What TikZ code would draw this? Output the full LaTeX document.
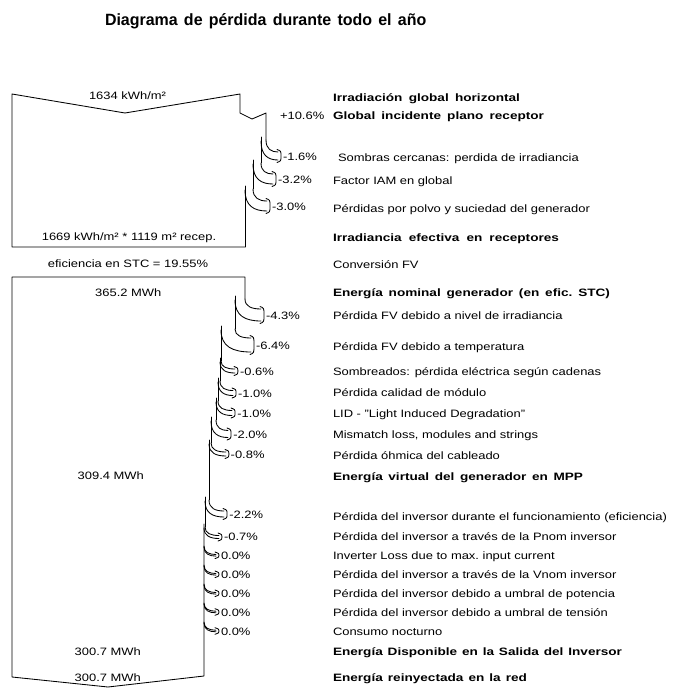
\documentclass[tikz,border=0pt]{standalone}
\usepackage{fontspec}
\setmainfont{Liberation Sans}[FakeStretch=1.21]
\newfontfamily\lblbold{Liberation Sans}[FakeStretch=1.27]
\newfontfamily\ttlfont{Liberation Sans}[FakeStretch=0.98,WordSpace=1.4]
\newcommand\spreadto[2]{\makebox[#1pt][s]{#2}}
\begin{document}
\begin{tikzpicture}[x=1pt,y=-1pt,
  every node/.style={inner sep=0pt,outer sep=0pt},
  lbl/.style={anchor=base west,font=\fontsize{10.7}{12}\selectfont},
  blbl/.style={anchor=base west,font=\lblbold\bfseries\fontsize{10.7}{12}\selectfont},
  pct/.style={anchor=base west,font=\fontsize{10.7}{12}\selectfont},
  val/.style={anchor=base,font=\fontsize{10.7}{12}\selectfont},
  flow/.style={draw=black,line width=0.85pt,line join=round,line cap=round}]
\useasboundingbox (0,0) rectangle (678,688);

% title
\node[anchor=base west,font=\ttlfont\bfseries\fontsize{16.3}{18}\selectfont] (title) at (105,25) {Diagrama de pérdida durante todo el año};

% upper block (irradiation)
\draw[flow] (245,247) -- (12,247) -- (12,94) -- (125,113) -- (240,94) -- (240,113) -- (252,119) -- (266,113) -- (266,140);
\draw[flow] (261,137) -- (261,163);
\draw[flow] (253,160) -- (253,189);
\draw[flow] (245,186) -- (245,247);

% lower block (energy)
\draw[flow] (245,299) -- (245,277) -- (12,277) -- (12,677) -- (108,687) -- (204,676) -- (204,524);
\draw[flow] (235,296) -- (235,329);
\draw[flow] (221,326) -- (221,361);
\draw[flow] (220,358) -- (220,381);
\draw[flow] (218,378) -- (218,401);
\draw[flow] (216,398) -- (216,420);
\draw[flow] (211,417) -- (211,443);
\draw[flow] (209,440) -- (209,500);
\draw[flow] (205,497) -- (205,527);

% loss bands: outer x / inner x / start y / tip x / tip y / half height
\foreach \xo/\xi/\yo/\tx/\ty/\hh in {
  266/261/140/281/156/4,
  261/253/163/276/179/5,
  253/245/189/270/206/5,
  245/235/299/264/315/6,
  235/221/329/254/345/7,
  221/220/361/238/371/2,
  220/218/381/236/393/2.5,
  218/216/401/235/413/2.5,
  216/211/420/231/434/3.5,
  211/209/443/229/454/2,
  209/205/500/227/514/3,
  205/204/527/222/537/1.5,
  204/204/546/219/555.3/0.8,
  204/204/565/219/574.3/0.8,
  204/204/584/219/593.3/0.8,
  204/204/603/219/612/0.8,
  204/204/622/219/631/0.8}{
  \draw[flow] (\xo,\yo) .. controls (\xo,{\yo+0.75*(\ty-\hh-\yo)}) and ({\xo+0.35*(\tx-\xo)},{\ty-\hh}) .. ({\tx-3},{\ty-\hh});
  \draw[flow] (\xi,{\yo+1}) .. controls (\xi,{\yo+1+0.75*(\ty+\hh-\yo-1)}) and ({\xi+0.35*(\tx-\xi)},{\ty+\hh}) .. ({\tx-3},{\ty+\hh});
  \draw[flow] ({\tx-4},{\ty-\hh-2.5}) .. controls ({\tx},{\ty-\hh-1}) .. (\tx,\ty) .. controls ({\tx},{\ty+\hh+1}) .. ({\tx-4},{\ty+\hh+2.5});
}

% values inside the blocks
\node[val] (v1) at (127.5,99) {1634 kWh/m²};
\node[val] (v2) at (129,240.5) {1669 kWh/m² * 1119 m² recep.};
\node[val] (v3) at (128,267.3) {eficiencia en STC = 19.55\%};
\node[val] (v4) at (128.3,296) {365.2 MWh};
\node[val] (v5) at (110.8,479.3) {309.4 MWh};
\node[val] (v6) at (107.8,655) {300.7 MWh};
\node[val] (v7) at (107.8,681.7) {300.7 MWh};

% percentages
\node[pct] (p0) at (280,119) {+10.6\%};
\node[pct] (p1) at (283,160) {-1.6\%};
\node[pct] (p2) at (278,183) {-3.2\%};
\node[pct] (p3) at (272,210) {-3.0\%};
\node[pct] (p4) at (266,319.3) {-4.3\%};
\node[pct] (p5) at (256,349.3) {-6.4\%};
\node[pct] (p6) at (240,375) {-0.6\%};
\node[pct] (p7) at (238,397.3) {-1.0\%};
\node[pct] (p8) at (237.3,417.3) {-1.0\%};
\node[pct] (p9) at (233.3,438.3) {-2.0\%};
\node[pct] (p10) at (230.7,458.3) {-0.8\%};
\node[pct] (p11) at (229.3,518.3) {-2.2\%};
\node[pct] (p12) at (224,540.7) {-0.7\%};
\node[pct] (p13) at (221,559.3) {0.0\%};
\node[pct] (p14) at (221,578.3) {0.0\%};
\node[pct] (p15) at (221,597.3) {0.0\%};
\node[pct] (p16) at (221,616) {0.0\%};
\node[pct] (p17) at (221,635) {0.0\%};

% descriptions
\node[blbl] (d0) at (333,101.5) {\spreadto{187}{Irradiación global horizontal}};
\node[blbl] (d1) at (333,119) {\spreadto{211}{Global incidente plano receptor}};
\node[lbl] (d2) at (338,161) {Sombras cercanas: perdida de irradiancia};
\node[lbl] (d3) at (333,184.5) {Factor IAM en global};
\node[lbl] (d4) at (333,212.5) {Pérdidas por polvo y suciedad del generador};
\node[blbl] (d5) at (333,241) {\spreadto{226}{Irradiancia efectiva en receptores}};
\node[lbl] (d6) at (333,268.5) {Conversión FV};
\node[blbl] (d7) at (333,296.5) {\spreadto{277}{Energía nominal generador (en efic.\ STC)}};
\node[lbl] (d8) at (333,319.5) {Pérdida FV debido a nivel de irradiancia};
\node[lbl] (d9) at (333,350.5) {Pérdida FV debido a temperatura};
\node[lbl] (d10) at (333,375) {Sombreados: pérdida eléctrica según cadenas};
\node[lbl] (d11) at (333,396.5) {Pérdida calidad de módulo};
\node[lbl] (d12) at (333,417) {LID - "Light Induced Degradation"};
\node[lbl] (d13) at (333,438.5) {Mismatch loss, modules and strings};
\node[lbl] (d14) at (333,459.5) {Pérdida óhmica del cableado};
\node[blbl] (d15) at (333,480) {\spreadto{250}{Energía virtual del generador en MPP}};
\node[lbl] (d16) at (333,520) {Pérdida del inversor durante el funcionamiento (eficiencia)};
\node[lbl] (d17) at (333,540.7) {Pérdida del inversor a través de la Pnom inversor};
\node[lbl] (d18) at (333,559.3) {Inverter Loss due to max.\ input current};
\node[lbl] (d19) at (333,578.3) {Pérdida del inversor a través de la Vnom inversor};
\node[lbl] (d20) at (333,597.3) {Pérdida del inversor debido a umbral de potencia};
\node[lbl] (d21) at (333,616) {Pérdida del inversor debido a umbral de tensión};
\node[lbl] (d22) at (333,635) {Consumo nocturno};
\node[blbl] (d23) at (333,655) {\spreadto{289}{Energía Disponible en la Salida del Inversor}};
\node[blbl] (d24) at (333,681.7) {\spreadto{194}{Energía reinyectada en la red}};
\end{tikzpicture}
\end{document}
